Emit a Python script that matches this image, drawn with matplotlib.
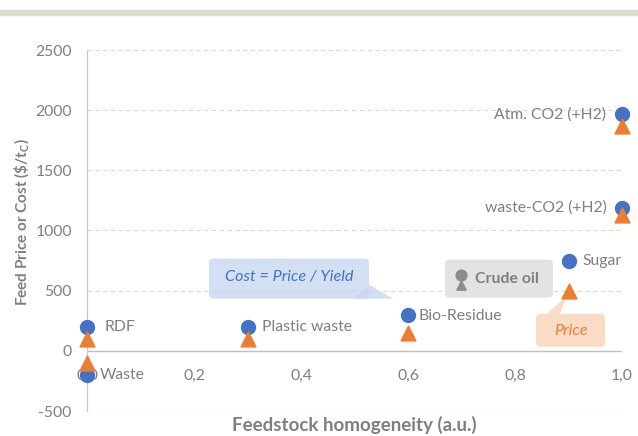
import matplotlib.pyplot as plt
import numpy as np
from matplotlib.patches import FancyBboxPatch, Polygon, Rectangle

plt.rcParams['font.family'] = ['Lato', 'DejaVu Sans']

# data
feeds = ['RDF', 'Waste', 'Plastic waste', 'Bio-Residue', 'Sugar', 'waste-CO2 (+H2)', 'Atm. CO2 (+H2)']
homogeneity = [0.0, 0.0, 0.3, 0.6, 0.9, 1.0, 1.0]
cost = [200, -200, 200, 300, 750, 1190, 1970]
price = [100, -100, 100, 150, 500, 1130, 1870]
xticks = [0.0, 0.2, 0.4, 0.6, 0.8, 1.0]
xticklabels = ['0,0', '0,2', '0,4', '0,6', '0,8', '1,0']
yticks = [-500, 0, 500, 1000, 1500, 2000, 2500]

blue = '#4472C4'
orange = '#ED7D31'
grey = '#7F7F7F'

fig = plt.figure(figsize=(6.38, 4.36), dpi=100)
ax = fig.add_axes([87/638, 25/436, 535/638, 361/436])

# beige band on top
fig.patches.append(Rectangle((0, 421/436), 1, 5/436, transform=fig.transFigure,
                             color='#DDDBC9', zorder=0))

ax.set_xlim(0, 1.0)
ax.set_ylim(-500, 2500)

# gridlines
for yv in yticks:
    if yv != 0:
        ax.axhline(yv, color='#D9D9D9', lw=0.8, ls=(0, (4, 3)), zorder=0)
ax.axhline(0, color='#BFBFBF', lw=1.0, zorder=1)

for s in ['top', 'right', 'bottom']:
    ax.spines[s].set_visible(False)
ax.spines['left'].set_color('#C8C8C8')
ax.spines['left'].set_linewidth(0.9)

ax.set_yticks(yticks)
ax.set_yticklabels([str(v) for v in yticks])
ax.tick_params(axis='y', length=0, pad=11, labelsize=11.3, labelcolor=grey)
ax.set_xticks([])
for xv, lab in zip(xticks, xticklabels):
    ax.annotate(lab, (xv, 0), xytext=(0, -25), textcoords='offset pixels',
                ha='center', va='center', fontsize=11.3, color=grey)

fig.text(354/638, 1 - 425/436, 'Feedstock homogeneity (a.u.)', ha='center', va='center',
         fontsize=13.5, fontweight='bold', color=grey)
fig.text(22/638, 1 - 222/436, 'Feed Price or Cost (\\$/t$_\\mathregular{C}$)', ha='center',
         va='center', rotation=90, fontsize=11, fontweight='bold', color=grey)

ax.scatter(homogeneity, cost, s=100, marker='o', color=blue, zorder=4, clip_on=False)
ax.scatter(homogeneity, price, s=115, marker='^', color=orange, zorder=5, clip_on=False)

# point labels (offsets in pixels)
offsets = {
    'RDF': (18, 0, 'left'),
    'Waste': (13, 0, 'left'),
    'Plastic waste': (15, 0, 'left'),
    'Bio-Residue': (11, -1, 'left'),
    'Sugar': (14, 0, 'left'),
    'waste-CO2 (+H2)': (-15, 0, 'right'),
    'Atm. CO2 (+H2)': (-16, -1, 'right'),
}
for name, xv, yv in zip(feeds, homogeneity, cost):
    dx, dy, ha = offsets[name]
    ax.annotate(name, (xv, yv), xytext=(dx, dy), textcoords='offset pixels',
                ha=ha, va='center', fontsize=11.3, color=grey, zorder=6)

# helpers: pixel -> data
def px(x):
    return (x - 87) / 535

def py(y):
    return (351 - y) * 500 / 60

# "Cost = Price / Yield" callout
ax.add_patch(FancyBboxPatch((px(209), py(299)), px(369) - px(209), py(259) - py(299),
                            boxstyle='round,pad=0,rounding_size=0.008',
                            mutation_aspect=500 / 60 * 535,
                            fc='#C9D7F0', ec='none', alpha=0.8, zorder=2))
ax.add_patch(Polygon([(px(354), py(299)), (px(369), py(285)), (px(393), py(299))],
                     closed=True, fc='#C9D7F0', ec='none', alpha=0.8, zorder=2))
ax.text(px(289), py(277), 'Cost = Price / Yield', ha='center', va='center',
        fontsize=11.6, style='italic', color=blue, zorder=3)

# "Crude oil" box
ax.add_patch(FancyBboxPatch((px(445), py(298)), px(553) - px(445), py(260) - py(298),
                            boxstyle='round,pad=0,rounding_size=0.008',
                            mutation_aspect=500 / 60 * 535,
                            fc='#E3E3E3', ec='none', zorder=2))
ax.scatter([px(461)], [py(275)], s=60, marker='o', color='#8C8C8C', zorder=3)
ax.scatter([px(461)], [py(285)], s=45, marker='^', color='#8C8C8C', zorder=3)
ax.text(px(475), py(279), 'Crude oil', ha='left', va='center', fontsize=11.4,
        fontweight='bold', color=grey, zorder=3)

# "Price" callout
ax.add_patch(FancyBboxPatch((px(536), py(347)), px(605) - px(536), py(314) - py(347),
                            boxstyle='round,pad=0,rounding_size=0.008',
                            mutation_aspect=500 / 60 * 535,
                            fc='#FAD3B8', ec='none', alpha=0.8, zorder=2))
ax.add_patch(Polygon([(px(547), py(314)), (px(560), py(314)), (px(566), py(297))],
                     closed=True, fc='#FAD3B8', ec='none', alpha=0.8, zorder=2))
ax.text(px(571), py(331), 'Price', ha='center', va='center', fontsize=11.6,
        style='italic', color=orange, zorder=3)

plt.savefig('out.png', dpi=100)
